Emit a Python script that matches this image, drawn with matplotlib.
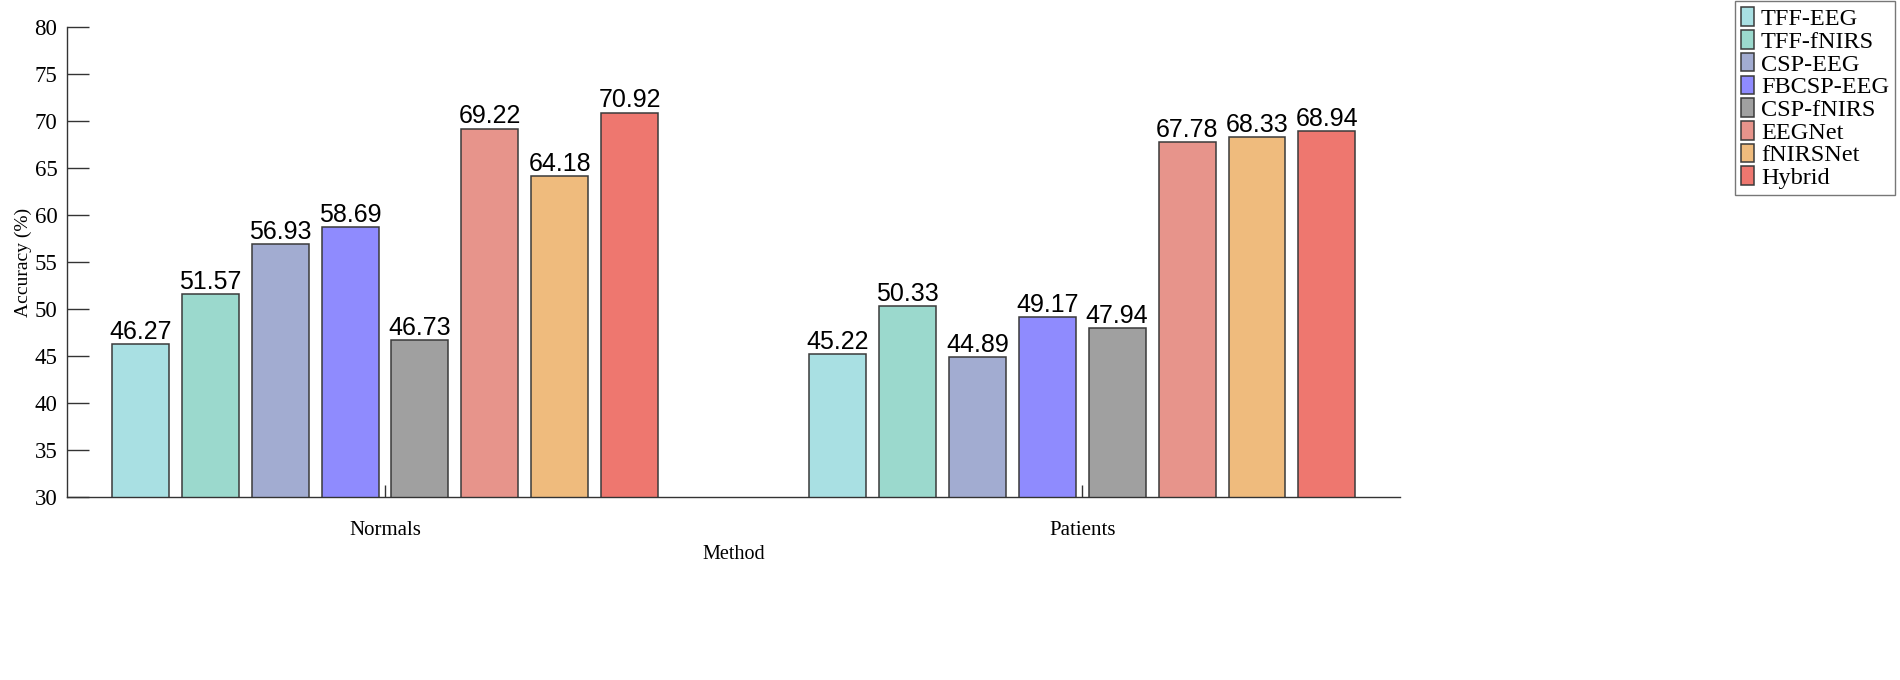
import matplotlib
matplotlib.use("Agg")
import matplotlib.pyplot as plt
import numpy as np

groups = ["Normals", "Patients"]
methods = ["TFF-EEG", "TFF-fNIRS", "CSP-EEG", "FBCSP-EEG", "CSP-fNIRS", "EEGNet", "fNIRSNet", "Hybrid"]
normals = [46.27, 51.57, 56.93, 58.69, 46.73, 69.22, 64.18, 70.92]
patients = [45.22, 50.33, 44.89, 49.17, 47.94, 67.78, 68.33, 68.94]
colors = ["#A9E0E3", "#9BD9CD", "#A2ACD1", "#8F8BFE", "#A0A0A0", "#E7948B", "#EFBB7D", "#EE776F"]
yticks = [30, 35, 40, 45, 50, 55, 60, 65, 70, 75, 80]

serif = ["Liberation Serif", "DejaVu Serif"]
sans = ["Liberation Sans", "DejaVu Sans"]

fig = plt.figure(figsize=(19, 6.8), dpi=100)
ax = fig.add_axes([0.0353, 0.269, 0.7016, 0.691])

x = np.arange(1, len(groups) + 1)
values = np.array([normals, patients])
step = 0.1003
width = 0.0817
for i, m in enumerate(methods):
    pos = x + (i - 3.5) * step
    bars = ax.bar(pos, values[:, i], width=width, bottom=0, color=colors[i],
                  edgecolor="#3a3a3a", linewidth=1.1, label=m, zorder=2)
    for b, v in zip(bars, values[:, i]):
        ax.text(b.get_x() + b.get_width() / 2, v + 0.02, f"{v:.2f}",
                ha="center", va="bottom", fontsize=18, family=sans, color="black")

ax.set_ylim(30, 80)
ax.set_xlim(0.544, 2.456)
ax.set_yticks(yticks)
ax.set_xticks(x)
ax.set_xticklabels(groups, family=serif, fontsize=15)
for lab in ax.get_yticklabels():
    lab.set_family(serif)
    lab.set_fontsize(16.5)
ax.tick_params(axis="y", direction="in", length=16, width=1, color="#333333", pad=7)
ax.tick_params(axis="x", direction="in", length=9, width=1, color="#333333", pad=17)
for s in ["top", "right"]:
    ax.spines[s].set_visible(False)
for s in ["left", "bottom"]:
    ax.spines[s].set_color("#333333")
    ax.spines[s].set_linewidth(1)
ax.set_ylabel("Accuracy (%)", family=serif, fontsize=14, labelpad=2)
ax.set_xlabel("Method", family=serif, fontsize=14.5, labelpad=4)

leg = fig.legend(loc="upper right", bbox_to_anchor=(0.998, 1.0), prop={"family": serif, "size": 17.5},
                 frameon=True, fancybox=False, edgecolor="#555555", handlelength=0.5,
                 handleheight=0.8, handletextpad=0.3, labelspacing=0.0, borderpad=0.25,
                 borderaxespad=0.05)
leg.get_frame().set_linewidth(1)

fig.savefig("out.png", dpi=100, facecolor="white")
